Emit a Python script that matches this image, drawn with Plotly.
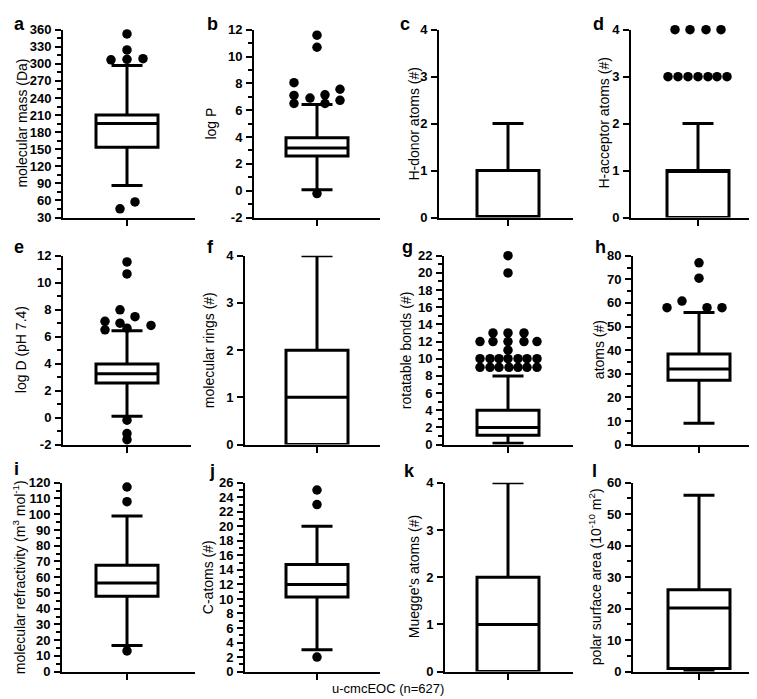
import plotly.graph_objects as go

# ---------------- data ----------------
panel_letters = ["a", "b", "c", "d", "e", "f", "g", "h", "i", "j", "k", "l"]
y_titles = [
    "molecular mass (Da)",
    "log P",
    "H-donor atoms (#)",
    "H-acceptor atoms (#)",
    "log D (pH 7.4)",
    "molecular rings (#)",
    "rotatable bonds (#)",
    "atoms (#)",
    "molecular refractivity (m<sup>3</sup> mol<sup>-1</sup>)",
    "C-atoms (#)",
    "Muegge's atoms (#)",
    "polar surface area (10<sup>-10</sup> m<sup>2</sup>)",
]
group_label = "u-cmcEOC (n=627)"

q1 = [153.5, 2.58, 0, 0, 2.57, 0, 1.1, 27.2, 47.8, 10.26, 0, 1.0]
median = [195, 3.19, 0, 1, 3.25, 1, 2, 32, 56.3, 12, 1, 20.2]
q3 = [210, 3.95, 1, 1, 3.97, 2, 4, 38.4, 67.5, 14.75, 2, 26]
lower_whisker = [86.5, 0.07, 0, 0, 0.1, 0, 0.15, 9, 16.6, 3, 0, 0]
upper_whisker = [297, 6.42, 2, 2, 6.44, 4, 8, 56, 98.8, 20, 4, 56]

# outliers (value, horizontal jitter offset)
out_a_y = [352.6, 324.5, 307, 308, 309, 45.4, 57.4]
out_a_dx = [0, 0, -16, 0, 16, -7, 8]
out_b_y = [11.59, 10.69, 8.05, 7.1, 6.5, 6.9, 7.15, 6.5, 7.56, 6.74, -0.21]
out_b_dx = [0, 0, -23, -23, -23, -7, 8, 8, 23, 23, 0]
out_c_y, out_c_dx = [], []
out_d_y = [3, 3, 3, 3, 3, 3, 3, 4, 4, 4, 4]
out_d_dx = [-30, -20, -10, 0, 10, 19, 29, -23, -8, 8, 23]
out_e_y = [11.54, 10.65, 7.99, 7.14, 6.51, 7.0, 7.48, 6.63, 6.83, -0.19, -1.18, -1.64]
out_e_dx = [0, 0, -7, -22, -22, -7, 8, 0, 24, 0, 0, 0]
out_f_y, out_f_dx = [], []
out_g_y = [22, 20, 13, 13, 13, 12, 12, 12, 12, 12, 11,
           10, 10, 10, 10, 10, 10, 10, 9, 9, 9, 9, 9, 9, 9]
out_g_dx = [0, 0, -15, 0, 16, -28, -15, 0, 16, 29, 0,
            -28, -18, -9, 0, 10, 19, 29, -28, -18, -9, 1, 10, 19, 29]
out_h_y = [77, 70.5, 60.8, 58, 58, 58]
out_h_dx = [0, 0, -17, -32, 8, 23]
out_i_y = [117.3, 108, 13.1]
out_i_dx = [0, 0, 0]
out_j_y = [25, 23, 2]
out_j_dx = [0, 0, 0]
out_k_y, out_k_dx = [], []
out_l_y, out_l_dx = [], []

y_ranges = [[30, 360], [-2, 12], [0, 4], [0, 4], [-2, 12], [0, 4],
            [0, 22], [0, 80], [0, 120], [0, 26], [0, 4], [0, 60]]
y_dticks = [30, 2, 1, 1, 2, 1, 2, 10, 10, 2, 1, 10]
y_minor = [15, 1, None, None, 1, None, 1, 5, 5, 1, None, 5]

outliers_y = [out_a_y, out_b_y, out_c_y, out_d_y, out_e_y, out_f_y,
              out_g_y, out_h_y, out_i_y, out_j_y, out_k_y, out_l_y]
outliers_dx = [out_a_dx, out_b_dx, out_c_dx, out_d_dx, out_e_dx, out_f_dx,
               out_g_dx, out_h_dx, out_i_dx, out_j_dx, out_k_dx, out_l_dx]

# ---------------- layout geometry (pixels) ----------------
W, H = 757, 699
# (axis left, axis right, box centre, top, bottom)
geom = [
    (55, 187, 119, 15, 207), (246, 372, 309, 15, 207),
    (431, 565, 500, 15, 207), (623, 750, 690, 15, 207),
    (55, 183, 119, 246, 439), (237, 372, 309, 246, 439),
    (436, 565, 500, 246, 439), (625, 750, 691, 246, 439),
    (54, 187, 119, 478, 671), (237, 372, 309, 478, 671),
    (437, 565, 500, 478, 671), (625, 750, 691, 478, 671),
]
title_x = [14, 203, 406, 596, 13, 201, 398, 591, 11, 200, 406, 587]
letter_pos = [(4, 9), (197, 9), (390, 9), (583, 9),
              (4, 237), (197, 237), (392, 237), (585, 237),
              (4, 464), (199, 466), (394, 466), (582, 466)]

FONT = "Liberation Sans, Arial, sans-serif"

fig = go.Figure()
layout = dict(
    width=W, height=H,
    margin=dict(l=0, r=0, t=0, b=0),
    paper_bgcolor="white", plot_bgcolor="white",
    showlegend=False,
    font=dict(family=FONT, color="black"),
)
annotations = []

for k in range(12):
    left, right, cen, top, bot = geom[k]
    n = k + 1
    xa = "x" if n == 1 else f"x{n}"
    ya = "y" if n == 1 else f"y{n}"
    fig.add_trace(go.Box(
        x=[0], q1=[q1[k]], median=[median[k]], q3=[q3[k]],
        lowerfence=[lower_whisker[k]], upperfence=[upper_whisker[k]],
        width=62, whiskerwidth=0.5, boxpoints=False,
        fillcolor="white", line=dict(color="black", width=3),
        xaxis=xa, yaxis=ya, hoverinfo="skip",
    ))
    if outliers_y[k]:
        fig.add_trace(go.Scatter(
            x=outliers_dx[k], y=outliers_y[k], mode="markers",
            marker=dict(color="black", size=9.5, line=dict(width=0)),
            cliponaxis=False, xaxis=xa, yaxis=ya, hoverinfo="skip",
        ))
    xkey = "xaxis" if n == 1 else f"xaxis{n}"
    ykey = "yaxis" if n == 1 else f"yaxis{n}"
    layout[xkey] = dict(
        domain=[left / W, right / W], anchor=ya,
        range=[-(cen - left), right - cen],
        showgrid=False, zeroline=False, showline=True,
        linecolor="black", linewidth=2,
        tickvals=[0], ticks="outside", ticklen=6, tickwidth=2,
        tickcolor="black", showticklabels=False, fixedrange=True,
    )
    lo, hi = y_ranges[k]
    step = y_dticks[k]
    tv = []
    v = lo
    while v <= hi + 1e-9:
        tv.append(v)
        v += step
    yd = dict(
        domain=[1 - bot / H, 1 - top / H], anchor=xa,
        range=y_ranges[k], tickvals=tv,
        ticktext=[f"<b>{t:g}</b>" for t in tv],
        showgrid=False, zeroline=False, showline=True,
        linecolor="black", linewidth=2,
        ticks="outside", ticklen=6, tickwidth=2, tickcolor="black",
        tickfont=dict(family=FONT, size=13, color="black"),
        ticklabelstandoff=1, fixedrange=True,
    )
    if y_minor[k]:
        yd["minor"] = dict(dtick=y_minor[k], tick0=0, ticks="outside",
                           ticklen=4, tickwidth=2, tickcolor="black",
                           showgrid=False)
    layout[ykey] = yd
    annotations.append(dict(
        text=y_titles[k], textangle=-90, showarrow=False,
        xref="paper", yref="paper",
        x=title_x[k] / W, y=1 - ((top + bot) / 2) / H,
        xanchor="center", yanchor="middle",
        font=dict(family=FONT, size=14, color="black"),
    ))
    lx, ly = letter_pos[k]
    annotations.append(dict(
        text=f"<b>{panel_letters[k]}</b>", showarrow=False,
        xref="paper", yref="paper", x=lx / W, y=1 - ly / H,
        xanchor="left", yanchor="middle",
        font=dict(family=FONT, size=18, color="black"),
    ))

annotations.append(dict(
    text=group_label, showarrow=False, xref="paper", yref="paper",
    x=380 / W, y=1 - 688 / H, xanchor="center", yanchor="middle",
    font=dict(family=FONT, size=13, color="black"),
))
layout["annotations"] = annotations
fig.update_layout(**layout)
fig.write_html("out.html")
